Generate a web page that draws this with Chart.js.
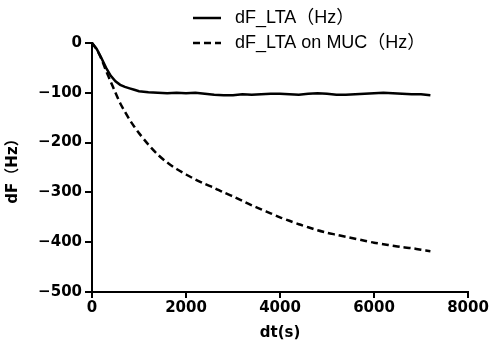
<!DOCTYPE html>
<html>
<head>
<meta charset="utf-8">
<script src="https://cdn.jsdelivr.net/npm/chart.js"></script>
<style>
  html, body { margin: 0; padding: 0; background: #fff; }
  #wrap { width: 491px; height: 346px; }
</style>
</head>
<body>
<div id="wrap"><canvas id="chart"></canvas></div>
<script>
// tempi (s) e valori
const times = [0, 100, 200, 300, 400, 500, 600, 700, 800, 900, 1000, 1200, 1400, 1600, 1800, 2000,
  2200, 2400, 2600, 2800, 3000, 3200, 3400, 3600, 3800, 4000, 4200, 4400, 4600, 4800, 5000,
  5200, 5400, 5600, 5800, 6000, 6200, 6400, 6600, 6800, 7000, 7200];
const dfLta = [0, -12, -30, -50, -66, -77, -84, -88, -91, -94, -97, -99, -100, -101, -100, -101,
  -100, -102, -104, -105, -105, -103, -104, -103, -102, -102, -103, -104, -102, -101, -102,
  -104, -104, -103, -102, -101, -100, -101, -102, -103, -103, -105];
const dfLtaMuc = [0, -13, -32, -56, -78, -100, -121, -138, -154, -168, -181, -204, -224, -240, -253, -264,
  -274, -283, -291, -300, -308, -317, -326, -334, -342, -350, -357, -364, -370, -376, -381,
  -385, -389, -393, -397, -401, -404, -407, -410, -412, -415, -418];
const seriesLabels = ["dF_LTA\uFF08Hz\uFF09", "dF_LTA on MUC\uFF08Hz\uFF09"];
const yTicks = [0, -100, -200, -300, -400, -500];
const xTicks = [0, 2000, 4000, 6000, 8000];

const toPoints = vals => vals.map((v, i) => ({ x: times[i], y: v }));
const boldFont = { family: "'DejaVu Sans', 'Noto Sans CJK JP', sans-serif", size: 15, weight: "bold" };

// legenda disegnata a mano (due righe in alto)
const legendPlugin = {
  id: "customLegend",
  afterDraw(chart) {
    const ctx = chart.ctx;
    const rows = [18, 43];
    ctx.save();
    chart.data.datasets.forEach((ds, i) => {
      const y = rows[i];
      ctx.beginPath();
      ctx.setLineDash(ds.borderDash || []);
      ctx.lineWidth = 2.5;
      ctx.strokeStyle = "#000";
      ctx.moveTo(193, y);
      ctx.lineTo(221, y);
      ctx.stroke();
      ctx.setLineDash([]);
      ctx.fillStyle = "#000";
      ctx.font = "18px 'Liberation Sans', 'Noto Sans CJK JP', sans-serif";
      ctx.textBaseline = "middle";
      ctx.fillText(ds.label, 235, y);
    });
    ctx.restore();
  }
};

new Chart(document.getElementById("chart"), {
  type: "line",
  data: {
    datasets: [
      {
        label: seriesLabels[0],
        data: toPoints(dfLta),
        borderColor: "#000",
        borderWidth: 2.5,
        pointRadius: 0,
        tension: 0,
        clip: false
      },
      {
        label: seriesLabels[1],
        data: toPoints(dfLtaMuc),
        borderColor: "#000",
        borderWidth: 2.5,
        borderDash: [7, 4],
        pointRadius: 0,
        tension: 0.3,
        clip: false
      }
    ]
  },
  options: {
    responsive: true,
    maintainAspectRatio: false,
    animation: false,
    layout: { padding: { left: 0, right: 23, top: 43, bottom: 0 } },
    plugins: {
      legend: { display: false },
      tooltip: { enabled: false }
    },
    scales: {
      x: {
        type: "linear",
        min: 0,
        max: 8000,
        afterBuildTicks: s => { s.ticks = xTicks.map(v => ({ value: v })); },
        afterFit: s => { s.height = 54; },
        ticks: { color: "#000", font: boldFont, padding: 1, maxRotation: 0, callback: v => String(v) },
        grid: { drawOnChartArea: false, color: "#000", lineWidth: 2, tickLength: 6 },
        border: { color: "#000", width: 2 },
        title: { display: true, text: "dt(s)", color: "#000", font: boldFont, padding: { top: 0 } }
      },
      y: {
        min: -500,
        max: 0,
        afterBuildTicks: s => { s.ticks = yTicks.map(v => ({ value: v })); },
        afterFit: s => { s.width = 92; },
        ticks: {
          color: "#000",
          font: boldFont,
          padding: 3,
          callback: v => (v < 0 ? "\u2212" + Math.abs(v) : String(v))
        },
        grid: { drawOnChartArea: false, color: "#000", lineWidth: 2, tickLength: 7 },
        border: { color: "#000", width: 2 },
        title: { display: true, text: "dF\uFF08Hz\uFF09", color: "#000", font: boldFont, padding: { bottom: 0 } }
      }
    }
  },
  plugins: [legendPlugin]
});
</script>
</body>
</html>
